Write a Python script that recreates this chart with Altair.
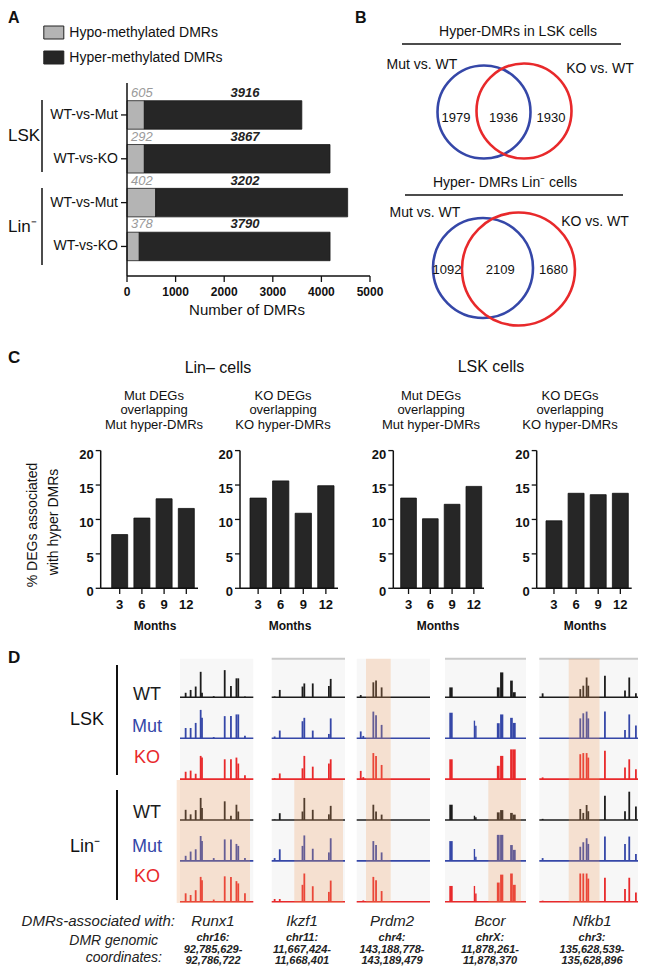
import altair as alt
import pandas as pd

FONT = "Liberation Sans"
BLUE = "#3547A8"
RED = "#E8292B"
BLACK = "#1c1c1c"
OX, OY = 8, 8

# ---------------- data ----------------
# Panel A
a_groups = ["LSK", "LSK", "Lin⁻", "Lin⁻"]
a_comparisons = ["WT-vs-Mut", "WT-vs-KO", "WT-vs-Mut", "WT-vs-KO"]
a_hypo = [357, 357, 590, 253]
a_hyper = [3240, 3820, 3950, 3925]
a_hypo_labels = ["605", "292", "402", "378"]
a_hyper_labels = ["3916", "3867", "3202", "3790"]
a_ticks = [0, 1000, 2000, 3000, 4000, 5000]

# Panel B
b_sets = ["Mut vs. WT", "KO vs. WT"]
b_regions = ["Mut only", "Both", "KO only"]
b_lsk_counts = [1979, 1936, 1930]
b_lin_counts = [1092, 2109, 1680]

# Panel C
c_months = ["3", "6", "9", "12"]
c_lin_mut = [7.8, 10.2, 13.0, 11.6]
c_lin_ko = [13.1, 15.6, 10.9, 14.9]
c_lsk_mut = [13.1, 10.1, 12.2, 14.8]
c_lsk_ko = [9.8, 13.8, 13.6, 13.8]
c_ticks = [0, 5, 10, 15, 20]
c_titles = [["Mut DEGs", "overlapping", "Mut hyper-DMRs"],
            ["KO DEGs", "overlapping", "KO hyper-DMRs"],
            ["Mut DEGs", "overlapping", "Mut hyper-DMRs"],
            ["KO DEGs", "overlapping", "KO hyper-DMRs"]]

# Panel D
d_rows = ["LSK WT", "LSK Mut", "LSK KO", "Lin WT", "Lin Mut", "Lin KO"]
d_row_labels = ["WT", "Mut", "KO", "WT", "Mut", "KO"]
d_genes = ["Runx1", "Ikzf1", "Prdm2", "Bcor", "Nfkb1"]
d_coords = [["chr16:", "92,785,629-", "92,786,722"],
            ["chr11:", "11,667,424-", "11,668,401"],
            ["chr4:", "143,188,778-", "143,189,479"],
            ["chrX:", "11,878,261-", "11,878,370"],
            ["chr3:", "135,628,539-", "135,628,896"]]

runx1_pos = [7.7, 14.5, 21.4, 28.2, 30.0, 46.0, 61.0, 69.5, 77.0, 79.5, 88.6]
runx1_h = [
    [0.16, 0.26, 0.38, 0.90, 0.16, 0.04, 0.96, 0.40, 0.67, 0.67, 0.03],
    [0.36, 0.36, 0.54, 1.00, 0.72, 0.04, 0.78, 0.78, 0.84, 0.84, 0.09],
    [0.26, 0.30, 0.19, 0.82, 0.76, 0.00, 0.70, 0.70, 0.76, 0.55, 0.14],
    [0.36, 0.20, 0.35, 0.78, 0.42, 0.00, 0.66, 0.15, 0.54, 0.30, 0.00],
    [0.18, 0.33, 0.41, 0.88, 0.70, 0.10, 0.76, 0.76, 0.60, 0.53, 0.10],
    [0.30, 0.24, 0.41, 0.88, 0.76, 0.08, 0.90, 0.88, 0.73, 0.65, 0.30],
]
ikzf1_pos = [4.0, 11.0, 42.0, 44.5, 56.0, 78.0, 80.5]
ikzf1_h = [
    [0.03, 0.26, 0.38, 0.49, 0.49, 0.40, 0.65],
    [0.06, 0.27, 0.60, 0.72, 0.27, 0.15, 0.70],
    [0.04, 0.20, 0.38, 0.82, 0.44, 0.55, 0.70],
    [0.02, 0.24, 0.30, 0.78, 0.36, 0.20, 0.50],
    [0.10, 0.41, 0.53, 0.90, 0.43, 0.30, 0.80],
    [0.10, 0.10, 0.60, 1.00, 0.55, 0.35, 0.75],
]
prdm2_pos = [5.5, 9.0, 22.7, 26.4, 34.0]
prdm2_h = [
    [0.08, 0.00, 0.53, 0.59, 0.35],
    [0.24, 0.08, 0.94, 0.81, 0.47],
    [0.29, 0.07, 0.92, 0.82, 0.50],
    [0.00, 0.00, 0.54, 0.30, 0.19],
    [0.00, 0.00, 0.70, 0.56, 0.30],
    [0.00, 0.05, 0.88, 0.76, 0.38],
]
bcor_start = [5.3, 35.5, 37.2, 64.0, 68.0, 80.4, 83.7]
bcor_end = [9.5, 37.2, 39.0, 67.5, 72.0, 83.7, 87.3]
bcor_h = [
    [0.35, 0.00, 0.00, 0.35, 0.88, 0.59, 0.18],
    [0.90, 0.62, 0.44, 0.53, 0.84, 0.72, 0.54],
    [0.70, 0.00, 0.00, 0.47, 0.82, 1.05, 1.05],
    [0.54, 0.15, 0.10, 0.27, 0.35, 0.25, 0.19],
    [0.70, 0.42, 0.15, 0.92, 0.92, 0.56, 0.39],
    [0.56, 0.56, 0.29, 0.68, 0.96, 1.00, 0.60],
]
nfkb1_pos = [3.2, 39.4, 42.3, 45.5, 47.1, 63.1, 82.4, 86.5, 92.9]
nfkb1_h = [
    [0.14, 0.29, 0.41, 0.70, 0.41, 0.76, 0.24, 0.70, 0.14],
    [0.00, 0.70, 0.88, 0.94, 0.70, 0.94, 0.29, 0.84, 0.45],
    [0.06, 0.88, 0.92, 0.92, 0.76, 1.00, 0.41, 0.70, 0.35],
    [0.04, 0.39, 0.25, 0.53, 0.31, 0.86, 0.31, 1.00, 0.48],
    [0.10, 0.50, 0.66, 0.80, 0.60, 0.86, 0.60, 0.86, 0.24],
    [0.04, 1.00, 1.00, 1.00, 0.82, 0.85, 0.45, 0.85, 0.33],
]
# highlighted DMR windows (percent of track width) and which rows
hl_start = [-4.5, 30.8, 12.7, 53.5, 28.3]
hl_end = [95.5, 97.3, 46.4, 93.8, 57.9]
hl_rows = ["Lin", "Lin", "all", "Lin", "all"]
top_line = [False, True, False, True, True]

# ---------------- helpers ----------------
def X(v):
    return v - OX


def Y(v):
    return v - OY


layers = []


def text(s, x, y, size=13, align="center", weight="normal", style="normal",
         color="#111", angle=None):
    kw = dict(align=align, baseline="middle", fontSize=size, fontWeight=weight,
              fontStyle=style, color=color, font=FONT)
    if angle is not None:
        kw["angle"] = angle
    layers.append(alt.Chart(pd.DataFrame({"t": [s]})).mark_text(**kw).encode(
        x=alt.value(X(x)), y=alt.value(Y(y)), text="t:N"))


def hline(x0, x1, y, color="#111", w=1.5):
    layers.append(alt.Chart(pd.DataFrame({"a": [0]})).mark_rule(
        color=color, strokeWidth=w).encode(
        x=alt.value(X(x0)), x2=alt.value(X(x1)), y=alt.value(Y(y))))


def vline(x, y0, y1, color="#111", w=1.5):
    layers.append(alt.Chart(pd.DataFrame({"a": [0]})).mark_rule(
        color=color, strokeWidth=w).encode(
        x=alt.value(X(x)), y=alt.value(Y(y0)), y2=alt.value(Y(y1))))


# ---------------- Panel A ----------------
HYPO, HYPER = "Hypo-methylated DMRs", "Hyper-methylated DMRs"
a_keys = [f"{g} {c}" for g, c in zip(a_groups, a_comparisons)]
xA = alt.Scale(domain=[0, 5000], range=[X(127), X(370)], nice=False, zero=False)
yA = alt.Scale(type="band", domain=a_keys, range=[Y(100.7), Y(260.7)],
               paddingInner=0.35, paddingOuter=0)

recs = []
for k, lo, hi in zip(a_keys, a_hypo, a_hyper):
    recs.append({"key": k, "type": HYPO, "val": lo, "k": 0})
    recs.append({"key": k, "type": HYPER, "val": hi, "k": 1})
dfA = pd.DataFrame(recs)

layers.append(alt.Chart(dfA).mark_bar(stroke="#1a1a1a", strokeWidth=0.8).encode(
    x=alt.X("val:Q", stack="zero", scale=xA, axis=None),
    y=alt.Y("key:N", scale=yA, axis=None),
    color=alt.Color("type:N", scale=alt.Scale(domain=[HYPO, HYPER], range=["#b4b4b4", "#262626"]),
                    legend=alt.Legend(orient="none", legendX=X(43.3), legendY=Y(22), title=None,
                                      symbolType="M-1,-0.65H1V0.65H-1Z", symbolSize=400,
                                      symbolStrokeColor="#222", symbolStrokeWidth=1,
                                      symbolOpacity=1, labelFont=FONT, labelFontSize=14,
                                      labelColor="#111", labelOffset=5, rowPadding=6,
                                      padding=0, labelLimit=300)),
    order=alt.Order("k:Q"),
))

dfAL = pd.DataFrame({"key": a_keys, "hypo_t": a_hypo_labels, "hyper_t": a_hyper_labels,
                     "cmp": a_comparisons, "zero": [0] * 4})
layers.append(alt.Chart(dfAL).mark_text(align="left", dx=4, dy=-22, fontStyle="italic",
                                        fontSize=13, color="#9a9a9a", font=FONT).encode(
    x=alt.X("zero:Q", scale=xA, axis=None), y=alt.Y("key:N", scale=yA, axis=None),
    text="hypo_t:N"))
layers.append(alt.Chart(dfAL).mark_text(align="center", dy=-22, fontStyle="italic",
                                        fontWeight="bold", fontSize=13, color="#222",
                                        font=FONT).encode(
    x=alt.value(X(245)), y=alt.Y("key:N", scale=yA, axis=None), text="hyper_t:N"))
layers.append(alt.Chart(dfAL).mark_text(align="right", fontSize=14, color="#111",
                                        font=FONT).encode(
    x=alt.value(X(118)), y=alt.Y("key:N", scale=yA, axis=None), text="cmp:N"))
layers.append(alt.Chart(dfAL).mark_rule(strokeWidth=1.3, color="#111").encode(
    x=alt.value(X(121)), x2=alt.value(X(127)), y=alt.Y("key:N", scale=yA, axis=None)))

dfAT = pd.DataFrame({"v": a_ticks, "t": [str(t) for t in a_ticks]})
layers.append(alt.Chart(dfAT).mark_rule(strokeWidth=1.3, color="#111").encode(
    x=alt.X("v:Q", scale=xA, axis=None), y=alt.value(Y(276)), y2=alt.value(Y(282))))
layers.append(alt.Chart(dfAT).mark_text(fontSize=12, fontWeight="bold", color="#111",
                                        font=FONT).encode(
    x=alt.X("v:Q", scale=xA, axis=None), y=alt.value(Y(292)), text="t:N"))
vline(127, 83, 276)
hline(127, 370, 276)
text("Number of DMRs", 247, 310, size=15)
text("A", 8, 18, size=16, align="left", weight="bold")
text("LSK", 8, 136, size=17, align="left")
text("Lin⁻", 8, 227, size=17, align="left")
vline(42, 100, 172)
vline(42, 188, 265)

# ---------------- Panel B ----------------
text("B", 355, 18, size=16, align="left", weight="bold")


def venn(title, tx, ty, ux0, ux1, uy, lab_mut, lab_ko, cx, cy, diam, counts, nx, ny):
    text(title, tx, ty, size=14)
    hline(ux0, ux1, uy, w=1.5)
    text(b_sets[0], lab_mut[0], lab_mut[1], size=14)
    text(b_sets[1], lab_ko[0], lab_ko[1], size=14)
    sx = alt.Scale(type="point", domain=b_sets, range=[X(cx[0]), X(cx[1])], padding=0)
    for i, (s, col) in enumerate(zip(b_sets, [BLUE, RED])):
        layers.append(alt.Chart(pd.DataFrame({"set": [s]})).mark_point(
            shape="circle", filled=False, strokeWidth=2.6, opacity=1, color=col).encode(
            x=alt.X("set:N", scale=sx, axis=None), y=alt.value(Y(cy[i])),
            size=alt.value(diam[i] ** 2)))
    sn = alt.Scale(type="point", domain=b_regions, range=[X(nx[0]), X(nx[1])], padding=0)
    layers.append(alt.Chart(pd.DataFrame({"r": b_regions, "n": counts})).mark_text(
        fontSize=13, color="#111", font=FONT).encode(
        x=alt.X("r:N", scale=sn, axis=None), y=alt.value(Y(ny)), text="n:Q"))


venn("Hyper-DMRs in LSK cells", 518, 32, 402, 621, 44, (422, 65), (600, 69),
     (484, 524), (112, 111), (93, 95), b_lsk_counts, (456, 551), 118)
venn("Hyper- DMRs Lin⁻ cells", 505, 183, 405, 623, 195, (425, 213), (595, 222),
     (483, 518.5), (268, 269), (100, 113), b_lin_counts, (447, 553.5), 270)

# ---------------- Panel C ----------------
text("C", 8, 358, size=17, align="left", weight="bold")
text("Lin– cells", 218, 368, size=16)
text("LSK cells", 491, 367, size=16)
text("% DEGs  associated", 33, 525, size=14, angle=270)
text("with hyper DMRs", 54, 522, size=14, angle=270)

yC = alt.Scale(domain=[0, 20], range=[Y(588.3), Y(450.6)], nice=False, zero=False)
c_values = [c_lin_mut, c_lin_ko, c_lsk_mut, c_lsk_ko]
c_axis_x = [100.7, 240, 393.3, 536.7]
c_bar_r = [(111.7, 194.3), (250, 334), (400.7, 481.7), (546, 628.3)]
c_axis_end = [198, 338, 484, 631.7]
c_title_x = [154, 283, 431, 570]
c_months_x = [155, 290, 438, 585]
dfCT = pd.DataFrame({"v": c_ticks, "t": [str(t) for t in c_ticks]})
for vals, ax, (r0, r1), aend, tx, mx, ttl in zip(c_values, c_axis_x, c_bar_r, c_axis_end,
                                                 c_title_x, c_months_x, c_titles):
    for line, ly in zip(ttl, [395.5, 410, 424.5]):
        text(line, tx, ly, size=13)
    xC = alt.Scale(type="band", domain=c_months, range=[X(r0), X(r1)],
                   paddingInner=0.28, paddingOuter=0)
    dfC = pd.DataFrame({"m": c_months, "v": vals})
    layers.append(alt.Chart(dfC).mark_bar(color="#262626", stroke="#111", strokeWidth=0.8).encode(
        x=alt.X("m:N", scale=xC, axis=None), y=alt.Y("v:Q", scale=yC, axis=None)))
    layers.append(alt.Chart(dfC).mark_rule(strokeWidth=1.3, color="#111").encode(
        x=alt.X("m:N", scale=xC, axis=None), y=alt.value(Y(588.3)), y2=alt.value(Y(594))))
    layers.append(alt.Chart(dfC).mark_text(fontSize=13, fontWeight="bold", color="#111",
                                           font=FONT).encode(
        x=alt.X("m:N", scale=xC, axis=None), y=alt.value(Y(605)), text="m:N"))
    layers.append(alt.Chart(dfCT).mark_rule(strokeWidth=1.3, color="#111").encode(
        x=alt.value(X(ax - 5)), x2=alt.value(X(ax)), y=alt.Y("v:Q", scale=yC, axis=None)))
    layers.append(alt.Chart(dfCT).mark_text(align="right", dy=4, fontSize=13, fontWeight="bold",
                                            color="#111", font=FONT).encode(
        x=alt.value(X(ax - 7)), y=alt.Y("v:Q", scale=yC, axis=None), text="t:N"))
    layers.append(alt.Chart(pd.DataFrame({"lo": [0], "hi": [20]})).mark_rule(
        strokeWidth=1.5, color="#111").encode(
        x=alt.value(X(ax)), y=alt.Y("lo:Q", scale=yC, axis=None), y2="hi:Q"))
    hline(ax, aend, 588.3, w=1.5)
    text("Months", mx, 626, size=12, weight="bold")

# ---------------- Panel D ----------------
text("D", 8, 658, size=17, align="left", weight="bold")
text("LSK", 70, 720, size=18, align="left")
text("Lin⁻", 70, 847, size=18, align="left")
vline(117, 665, 775, w=2)
vline(117, 790, 900, w=2)
row_colors = [BLACK, BLUE, RED, BLACK, BLUE, RED]
for lab, col, ly in zip(d_row_labels, row_colors, [695, 727, 758, 813, 847, 877]):
    text(lab, 147, ly, size=18, color=col)

text("DMRs-associated with:", 175, 921, size=15, align="right", style="italic", color="#222")
text("DMR genomic", 158, 941, size=14, align="right", style="italic", color="#222")
text("coordinates:", 162, 958, size=14, align="right", style="italic", color="#222")

ROW_STEP = 40.9
BASE0 = 901.8
H_UNIT = 0.692
yD = alt.Scale(domain=[0, 6], range=[Y(BASE0), Y(BASE0 - 6 * ROW_STEP)], nice=False, zero=False)
colD = alt.Scale(domain=d_rows, range=row_colors)
d_x0 = [180, 271.7, 356.7, 445, 539.3]
d_x1 = [253.3, 345, 430, 526, 643.3]
d_label_x = [213, 302, 392, 490, 592]
PANEL_BOTTOM = -0.03
PANEL_TOP = 5.94
LIN_TOP = 2.98

peak_sets = [(runx1_pos, runx1_h), (ikzf1_pos, ikzf1_h), (prdm2_pos, prdm2_h), None,
             (nfkb1_pos, nfkb1_h)]

for gi, gene in enumerate(d_genes):
    xD = alt.Scale(domain=[0, 100], range=[X(d_x0[gi]), X(d_x1[gi])], nice=False, zero=False)
    # background
    layers.append(alt.Chart(pd.DataFrame({"a": [0], "b": [100], "lo": [PANEL_BOTTOM],
                                          "hi": [PANEL_TOP]})).mark_rect(color="#f7f7f7").encode(
        x=alt.X("a:Q", scale=xD, axis=None), x2="b:Q",
        y=alt.Y("lo:Q", scale=yD, axis=None), y2="hi:Q"))
    if top_line[gi]:
        layers.append(alt.Chart(pd.DataFrame({"a": [0], "b": [100], "y": [PANEL_TOP]})).mark_rule(
            color="#c9c9c9", strokeWidth=2).encode(
            x=alt.X("a:Q", scale=xD, axis=None), x2="b:Q",
            y=alt.Y("y:Q", scale=yD, axis=None)))
    # tracks
    if gene == "Bcor":
        recs = []
        for r, row in enumerate(d_rows):
            for s, e, h in zip(bcor_start, bcor_end, bcor_h[r]):
                if h > 0:
                    recs.append({"p0": s, "p1": e, "base": 5 - r, "top": 5 - r + h * H_UNIT,
                                 "row": row})
        layers.append(alt.Chart(pd.DataFrame(recs)).mark_rect().encode(
            x=alt.X("p0:Q", scale=xD, axis=None), x2="p1:Q",
            y=alt.Y("base:Q", scale=yD, axis=None), y2="top:Q",
            color=alt.Color("row:N", scale=colD, legend=None)))
    else:
        pos, hs = peak_sets[gi]
        recs = []
        for r, row in enumerate(d_rows):
            for p, h in zip(pos, hs[r]):
                if h > 0:
                    recs.append({"p": p, "base": 5 - r, "top": 5 - r + h * H_UNIT, "row": row})
        layers.append(alt.Chart(pd.DataFrame(recs)).mark_rule(strokeWidth=1.8).encode(
            x=alt.X("p:Q", scale=xD, axis=None),
            y=alt.Y("base:Q", scale=yD, axis=None), y2="top:Q",
            color=alt.Color("row:N", scale=colD, legend=None)))
    # baselines
    layers.append(alt.Chart(pd.DataFrame({"row": d_rows, "a": [0] * 6, "b": [100] * 6,
                                          "base": [5 - r for r in range(6)]})).mark_rule(
        strokeWidth=1.6).encode(
        x=alt.X("a:Q", scale=xD, axis=None), x2="b:Q",
        y=alt.Y("base:Q", scale=yD, axis=None),
        color=alt.Color("row:N", scale=colD, legend=None)))
    # highlighted window
    top = LIN_TOP if hl_rows[gi] == "Lin" else PANEL_TOP
    layers.append(alt.Chart(pd.DataFrame({"a": [hl_start[gi]], "b": [hl_end[gi]],
                                          "lo": [PANEL_BOTTOM], "hi": [top]})).mark_rect(
        color="#F0A060", opacity=0.26).encode(
        x=alt.X("a:Q", scale=xD, axis=None), x2="b:Q",
        y=alt.Y("lo:Q", scale=yD, axis=None), y2="hi:Q"))
    # labels
    text(gene, d_label_x[gi], 921, size=15, style="italic", color="#222")
    for line, ly in zip(d_coords[gi], [937.5, 949.5, 961]):
        text(line, d_label_x[gi], ly, size=11, weight="bold", style="italic", color="#222")

chart = alt.layer(*layers).resolve_scale(
    x="independent", y="independent", color="independent"
).properties(
    width=630, height=959, padding=0, autosize=alt.AutoSizeParams(type="none")
).configure_view(stroke=None)

chart.save("out.html", embed_options={"renderer": "svg", "actions": False})
